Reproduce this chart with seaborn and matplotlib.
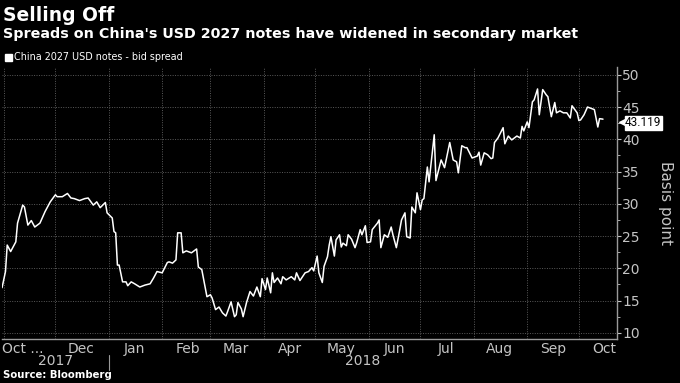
import matplotlib
matplotlib.use("Agg")
import matplotlib.pyplot as plt
import matplotlib.dates as mdates
import matplotlib.ticker as mticker
import numpy as np
import pandas as pd
import seaborn as sns

# ---------------- data ----------------
dates = [
    "2017-10-31", "2017-11-02", "2017-11-03", "2017-11-05", "2017-11-08", "2017-11-09",
    "2017-11-12", "2017-11-13", "2017-11-15", "2017-11-17", "2017-11-19", "2017-11-22",
    "2017-11-25", "2017-11-28", "2017-12-01", "2017-12-02", "2017-12-05", "2017-12-08",
    "2017-12-10", "2017-12-12", "2017-12-15", "2017-12-18", "2017-12-20", "2017-12-23",
    "2017-12-25", "2017-12-27", "2017-12-30", "2017-12-31", "2018-01-03", "2018-01-04",
    "2018-01-05", "2018-01-06", "2018-01-07", "2018-01-09", "2018-01-11", "2018-01-12",
    "2018-01-14", "2018-01-16", "2018-01-19", "2018-01-22", "2018-01-25", "2018-01-27",
    "2018-01-29", "2018-02-01", "2018-02-04", "2018-02-05", "2018-02-07", "2018-02-09",
    "2018-02-10", "2018-02-12", "2018-02-13", "2018-02-15", "2018-02-18", "2018-02-21",
    "2018-02-22", "2018-02-24", "2018-02-27", "2018-03-01", "2018-03-02", "2018-03-04",
    "2018-03-06", "2018-03-08", "2018-03-10", "2018-03-11", "2018-03-13", "2018-03-15",
    "2018-03-16", "2018-03-17", "2018-03-19", "2018-03-20", "2018-03-22", "2018-03-24",
    "2018-03-26", "2018-03-28", "2018-03-30", "2018-03-31", "2018-04-02", "2018-04-03",
    "2018-04-05", "2018-04-06", "2018-04-07", "2018-04-09", "2018-04-11", "2018-04-12",
    "2018-04-14", "2018-04-17", "2018-04-19", "2018-04-20", "2018-04-22", "2018-04-25",
    "2018-04-27", "2018-04-29", "2018-04-30", "2018-05-02", "2018-05-03", "2018-05-05",
    "2018-05-06", "2018-05-08", "2018-05-09", "2018-05-10", "2018-05-12", "2018-05-13",
    "2018-05-15", "2018-05-16", "2018-05-17", "2018-05-19", "2018-05-20", "2018-05-22",
    "2018-05-24", "2018-05-25", "2018-05-27", "2018-05-28", "2018-05-30", "2018-05-31",
    "2018-06-02", "2018-06-03", "2018-06-06", "2018-06-07", "2018-06-08", "2018-06-10",
    "2018-06-12", "2018-06-14", "2018-06-15", "2018-06-17", "2018-06-19", "2018-06-20",
    "2018-06-22", "2018-06-23", "2018-06-25", "2018-06-26", "2018-06-28", "2018-06-29",
    "2018-07-01", "2018-07-02", "2018-07-03", "2018-07-05", "2018-07-06", "2018-07-09",
    "2018-07-10", "2018-07-13", "2018-07-15", "2018-07-18", "2018-07-20", "2018-07-22",
    "2018-07-23", "2018-07-25", "2018-07-27", "2018-07-28", "2018-07-31", "2018-08-03",
    "2018-08-04", "2018-08-05", "2018-08-07", "2018-08-09", "2018-08-11", "2018-08-12",
    "2018-08-13", "2018-08-15", "2018-08-18", "2018-08-19", "2018-08-21", "2018-08-23",
    "2018-08-26", "2018-08-28", "2018-08-29", "2018-08-30", "2018-09-01", "2018-09-02",
    "2018-09-04", "2018-09-05", "2018-09-07", "2018-09-08", "2018-09-10", "2018-09-12",
    "2018-09-13", "2018-09-15", "2018-09-17", "2018-09-18", "2018-09-20", "2018-09-22",
    "2018-09-24", "2018-09-26", "2018-09-27", "2018-09-30", "2018-10-01", "2018-10-02",
    "2018-10-04", "2018-10-06", "2018-10-08", "2018-10-10", "2018-10-12", "2018-10-13",
    "2018-10-15",
]
bid_spread = [
    17.0, 19.5, 23.6, 22.6, 24.1, 27.0,
    29.8, 29.5, 26.7, 27.4, 26.4, 27.0,
    28.8, 30.3, 31.4, 31.1, 31.1, 31.6,
    30.9, 30.8, 30.5, 30.8, 30.9, 29.8,
    30.3, 29.4, 30.2, 28.6, 27.8, 25.7,
    25.5, 20.5, 20.5, 17.9, 17.9, 17.3,
    17.9, 17.6, 17.1, 17.4, 17.6, 18.5,
    19.5, 19.3, 20.9, 21.0, 20.8, 21.3,
    25.5, 25.5, 22.4, 22.7, 22.4, 23.0,
    20.2, 19.8, 15.6, 15.9, 15.4, 13.6,
    14.0, 13.1, 12.6, 13.3, 14.8, 12.5,
    12.8, 14.7, 13.7, 12.5, 14.7, 16.4,
    15.7, 17.1, 15.6, 18.4, 16.7, 18.5,
    16.2, 19.3, 17.8, 18.5, 17.6, 18.7,
    18.2, 18.7, 18.2, 19.3, 18.1, 19.3,
    19.5, 20.1, 19.6, 21.9, 19.3, 17.8,
    20.3, 21.8, 23.6, 24.9, 21.9, 24.4,
    25.2, 23.3, 23.9, 23.5, 25.2, 24.5,
    23.2, 24.0, 26.0, 25.2, 26.6, 24.0,
    24.1, 26.0, 27.0, 27.5, 23.2, 25.2,
    24.8, 26.4, 25.2, 23.2, 26.0, 27.5,
    28.6, 24.9, 24.7, 29.5, 28.6, 31.7,
    29.1, 30.6, 30.8, 35.7, 33.4, 40.7,
    33.6, 36.8, 35.6, 39.5, 36.8, 36.5,
    34.8, 39.0, 38.7, 38.7, 37.1, 37.4,
    38.0, 36.0, 37.9, 37.6, 37.0, 37.1,
    39.5, 40.2, 41.8, 39.3, 40.5, 39.9,
    40.5, 40.2, 42.0, 41.3, 42.7, 41.8,
    45.8, 46.1, 47.8, 43.8, 47.7, 46.9,
    46.6, 43.5, 45.7, 44.1, 44.4, 44.1,
    44.1, 43.3, 45.2, 44.1, 42.9, 43.0,
    43.8, 45.0, 44.8, 44.6, 41.9, 43.2,
    43.119,
]
month_labels = ["Oct ...", "Dec", "Jan", "Feb", "Mar", "Apr", "May", "Jun",
                "Jul", "Aug", "Sep", "Oct"]
year_labels = ["2017", "2018"]
y_ticks = [10, 15, 20, 25, 30, 35, 40, 45, 50]

title = "Selling Off"
subtitle = "Spreads on China's USD 2027 notes have widened in secondary market"
legend_label = "China 2027 USD notes - bid spread"
source = "Source: Bloomberg"
y_label = "Basis point"

df = pd.DataFrame({"date": pd.to_datetime(dates), "spread": bid_spread})

# ---------------- style ----------------
sns.set_style("dark", {"axes.facecolor": "black", "figure.facecolor": "black"})
plt.rcParams["font.family"] = ["DejaVu Sans"]
GRAY = "#c4c4c4"
GRID = "#5a5a5a"

fig = plt.figure(figsize=(6.8, 3.83), dpi=100)
fig.patch.set_facecolor("black")
ax = fig.add_axes([0.003, 0.115, 0.904, 0.71])
ax.set_facecolor("black")

sns.lineplot(data=df, x="date", y="spread", ax=ax, color="white",
             linewidth=1.1, legend=False)

x0 = pd.Timestamp("2017-10-31")
x1 = pd.Timestamp("2018-10-23")
ax.set_xlim(x0, x1)
ax.set_ylim(9.05, 51.2)

# y axis on right
ax.yaxis.tick_right()
ax.yaxis.set_label_position("right")
ax.set_yticks(y_ticks)
ax.yaxis.set_minor_locator(mticker.MultipleLocator(2.5))
ax.tick_params(axis="y", which="major", colors=GRAY, labelcolor=GRAY,
               labelsize=10, length=3, width=0.8, pad=1, direction="out")
ax.tick_params(axis="y", which="minor", colors=GRAY, length=2, width=0.6,
               direction="out")
ax.set_ylabel(y_label, color=GRAY, fontsize=11, rotation=270, labelpad=24)

# x axis: gridlines at month starts, labels mid-month
month_starts = pd.date_range("2017-11-01", "2018-10-01", freq="MS")
ax.set_xticks(month_starts)
ax.tick_params(axis="x", which="major", colors=GRAY, length=3, width=0.8,
               direction="in", labelbottom=False)
label_pos = [x0] + list(pd.date_range("2017-12-01", "2018-10-01", freq="MS")
                        + pd.Timedelta(days=15))
ax.set_xticks(label_pos, minor=True)
ax.set_xticklabels(month_labels, minor=True)
ax.tick_params(axis="x", which="minor", length=0, labelsize=10,
               labelcolor=GRAY, pad=2)
for lab in ax.get_xticklabels(minor=True):
    if lab.get_text().endswith("..."):
        lab.set_horizontalalignment("left")

ax.grid(True, which="major", color=GRID, linestyle=(0, (1, 1.5)), linewidth=0.7)
ax.grid(False, which="minor")

for s in ["top", "left"]:
    ax.spines[s].set_visible(False)
for s in ["bottom", "right"]:
    ax.spines[s].set_visible(True)
    ax.spines[s].set_color("#9a9a9a")
    ax.spines[s].set_linewidth(1.0)

ax.set_xlabel("")

# year labels
trans = ax.get_xaxis_transform()
year_bounds = [x0, pd.Timestamp("2018-01-01"), x1]
for i, yl in enumerate(year_labels):
    mid = year_bounds[i] + (year_bounds[i + 1] - year_bounds[i]) / 2
    ax.text(mid, -0.08, yl, transform=trans, ha="center", va="center",
            color=GRAY, fontsize=10)
ax.plot([year_bounds[1], year_bounds[1]], [-0.06, -0.115], transform=trans,
        color="#9a9a9a", linewidth=0.8, clip_on=False)

# last value tag
last = bid_spread[-1]
ax.annotate(f"{last:.3f}", xy=(1.0, last), xycoords=("axes fraction", "data"),
            xytext=(6, -2.5), textcoords="offset points", ha="left", va="center",
            fontsize=8.5, family=["Roboto", "DejaVu Sans"], color="black",
            bbox=dict(boxstyle="square,pad=0.05", fc="white", ec="white"))
ax.annotate("", xy=(1.0, last), xycoords=("axes fraction", "data"))
ax.plot([1.009], [last - 0.5], marker="<", markersize=5, color="white",
        transform=ax.get_yaxis_transform(), clip_on=False)

# titles / legend / source
fig.text(0.004, 0.985, title, color="white", fontsize=13.5, fontweight="bold",
         va="top", ha="left")
fig.text(0.004, 0.93, subtitle, color="white", fontsize=10.3, fontweight="bold",
         va="top", ha="left")
fig.patches.append(plt.Rectangle((0.008, 0.842), 0.009, 0.016,
                                 transform=fig.transFigure, color="white"))
fig.text(0.021, 0.85, legend_label, color="white", fontsize=6.9,
         va="center", ha="left")
fig.text(0.004, 0.008, source, color="white", fontsize=7.3, fontweight="bold",
         va="bottom", ha="left")

fig.savefig("out.png", dpi=100, facecolor="black")
